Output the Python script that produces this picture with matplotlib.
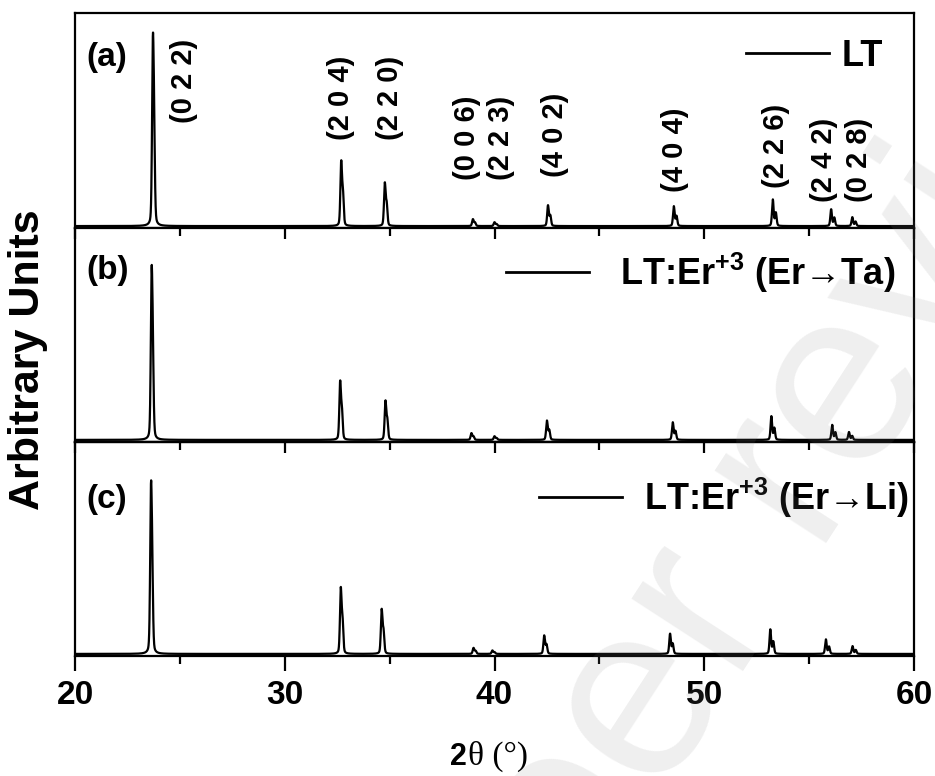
import numpy as np
import matplotlib
matplotlib.use('Agg')
import matplotlib.pyplot as plt
from matplotlib import font_manager
from matplotlib.ticker import MultipleLocator

installed = {f.name for f in font_manager.fontManager.ttflist}
narrow = 'Liberation Sans Narrow' if 'Liberation Sans Narrow' in installed else 'Liberation Sans'

plt.rcParams['font.family'] = ['Liberation Sans', 'DejaVu Sans']
plt.rcParams['font.weight'] = 'bold'
plt.rcParams['mathtext.fontset'] = 'custom'
plt.rcParams['mathtext.rm'] = 'Liberation Sans:bold'
plt.rcParams['mathtext.default'] = 'rm'

# Miller indices of the indexed reflections
hkl = ['(0 2 2)', '(2 0 4)', '(2 2 0)', '(0 0 6)', '(2 2 3)',
       '(4 0 2)', '(4 0 4)', '(2 2 6)', '(2 4 2)', '(0 2 8)']

# peak positions (2theta, deg) and relative intensities, (0 2 2) = 100
pos_lt = [23.71, 32.69, 34.77, 38.97, 40.00, 42.55, 48.55, 53.27, 56.05, 57.06]
int_lt = [100, 34.0, 22.6, 3.6, 2.0, 10.8, 10.3, 13.8, 8.7, 4.6]

pos_ta = [23.65, 32.64, 34.80, 38.90, 40.00, 42.50, 48.50, 53.20, 56.10, 56.90]
int_ta = [100, 34.0, 22.6, 3.9, 2.1, 11.1, 10.1, 13.6, 8.6, 4.5]

pos_li = [23.62, 32.67, 34.62, 39.00, 39.90, 42.37, 48.37, 53.15, 55.80, 57.07]
int_li = [100, 38.6, 26.0, 3.5, 2.0, 10.7, 11.7, 14.2, 8.4, 4.5]

labels = ['LT', r'LT:Er$^{+3}$ (Er→Ta)', r'LT:Er$^{+3}$ (Er→Li)']
panel_tags = ['(a)', '(b)', '(c)']

# where the hkl labels sit: x in 2theta, bottom edge in axes fraction
hkl_x = [25.2, 32.7, 35.0, 38.7, 40.3, 42.9, 48.6, 53.4, 55.7, 57.4]
hkl_y = [0.488, 0.409, 0.409, 0.223, 0.223, 0.237, 0.167, 0.186, 0.121, 0.121]

tt = np.linspace(20, 60, 8001)


def reflection(center, height):
    # Cu K-alpha1/K-alpha2 doublet with a pseudo-Voigt shape
    split = np.degrees(2 * np.tan(np.radians(center / 2)) * 0.00248)
    fwhm = 0.09

    def pv(c):
        g = np.exp(-4 * np.log(2) * ((tt - c) / fwhm) ** 2)
        l = 1 / (1 + 4 * ((tt - c) / fwhm) ** 2)
        return 0.7 * g + 0.3 * l

    p = pv(center) + 0.5 * pv(center + split)
    return height * p / p.max()


def pattern(pos, inten):
    y = np.full_like(tt, 0.4)
    for c, h in zip(pos, inten):
        y += reflection(c, h)
    return y


series = [(pos_lt, int_lt), (pos_ta, int_ta), (pos_li, int_li)]
ylims = [(-0.6, 110.5), (-0.8, 121.5), (-0.8, 122.5)]
tag_y = [0.795, 0.80, 0.73]
leg_anchor = [(0.963, 0.80), (0.978, 0.79), (0.994, 0.74)]
leg_pad = [0.35, 0.86, 0.6]

W, H = 935, 776
fig = plt.figure(figsize=(W / 100, H / 100), dpi=100)
left, right = 75, 914
edges = [13, 228, 442, 656]
axes = []
for i in range(3):
    ax = fig.add_axes([left / W, 1 - edges[i + 1] / H,
                       (right - left) / W, (edges[i + 1] - edges[i]) / H])
    axes.append(ax)

for i, ax in enumerate(axes):
    pos, inten = series[i]
    ax.plot(tt, pattern(pos, inten), color='black', lw=1.6, label=labels[i])
    ax.set_xlim(20, 60)
    ax.set_ylim(*ylims[i])
    ax.set_yticks([])
    for sp in ax.spines.values():
        sp.set_linewidth(1.6)
    ax.xaxis.set_major_locator(MultipleLocator(10))
    ax.xaxis.set_minor_locator(MultipleLocator(5))
    ax.text(0.014, tag_y[i], panel_tags[i], transform=ax.transAxes,
            ha='left', va='center', fontsize=24, fontweight='bold')
    leg = ax.legend(loc='center right', bbox_to_anchor=leg_anchor[i],
                    frameon=False, handlelength=2.3, handletextpad=leg_pad[i],
                    borderaxespad=0, borderpad=0,
                    prop={'family': [narrow, 'Liberation Sans', 'DejaVu Sans'],
                          'weight': 'bold', 'size': 26})
    for line in leg.get_lines():
        line.set_linewidth(2.0)

# top panel: no ticks; middle panel: inward ticks on its upper edge
axes[0].tick_params(axis='x', which='both', bottom=False, top=False, labelbottom=False)
axes[1].tick_params(axis='x', which='both', bottom=False, top=True, labelbottom=False,
                    direction='in', width=1.6)
axes[1].tick_params(axis='x', which='major', length=8)
axes[1].tick_params(axis='x', which='minor', length=6)

# bottom panel carries the 2theta scale, plus inward ticks on top
axes[2].tick_params(axis='x', which='both', bottom=True, top=False, direction='out', width=1.6)
axes[2].tick_params(axis='x', which='major', length=11, pad=6, labelsize=24)
axes[2].tick_params(axis='x', which='minor', length=6)
sec = axes[2].secondary_xaxis('top')
sec.xaxis.set_major_locator(MultipleLocator(10))
sec.xaxis.set_minor_locator(MultipleLocator(5))
sec.tick_params(which='both', direction='in', labeltop=False, width=1.6)
sec.tick_params(which='major', length=8)
sec.tick_params(which='minor', length=6)
sec.spines['top'].set_linewidth(1.6)
for lab in axes[2].get_xticklabels():
    lab.set_fontfamily([narrow, 'Liberation Sans'])
    lab.set_fontweight('bold')

for name, x, yb in zip(hkl, hkl_x, hkl_y):
    axes[0].text(x, yb, name, transform=axes[0].get_xaxis_transform(),
                 rotation=90, ha='center', va='bottom', fontsize=21, fontweight='bold')

fig.text(0.03, 0.537, 'Arbitrary Units', rotation=90, ha='center', va='center',
         fontsize=31, fontweight='bold')
fig.text(0.4995, 0.0142, '2', ha='right', va='baseline', fontsize=22, fontweight='bold')
fig.text(0.5005, 0.0142, 'θ (°)', ha='left', va='baseline', fontsize=24,
         fontweight='normal', family=['Liberation Serif', 'DejaVu Serif'])

# light diagonal watermark
fig.text(0.853, 0.395, 'Peer review', rotation=57, ha='center', va='center',
         fontsize=180, fontweight='normal', color='0.5', alpha=0.13)

fig.savefig('out.png', dpi=100)
